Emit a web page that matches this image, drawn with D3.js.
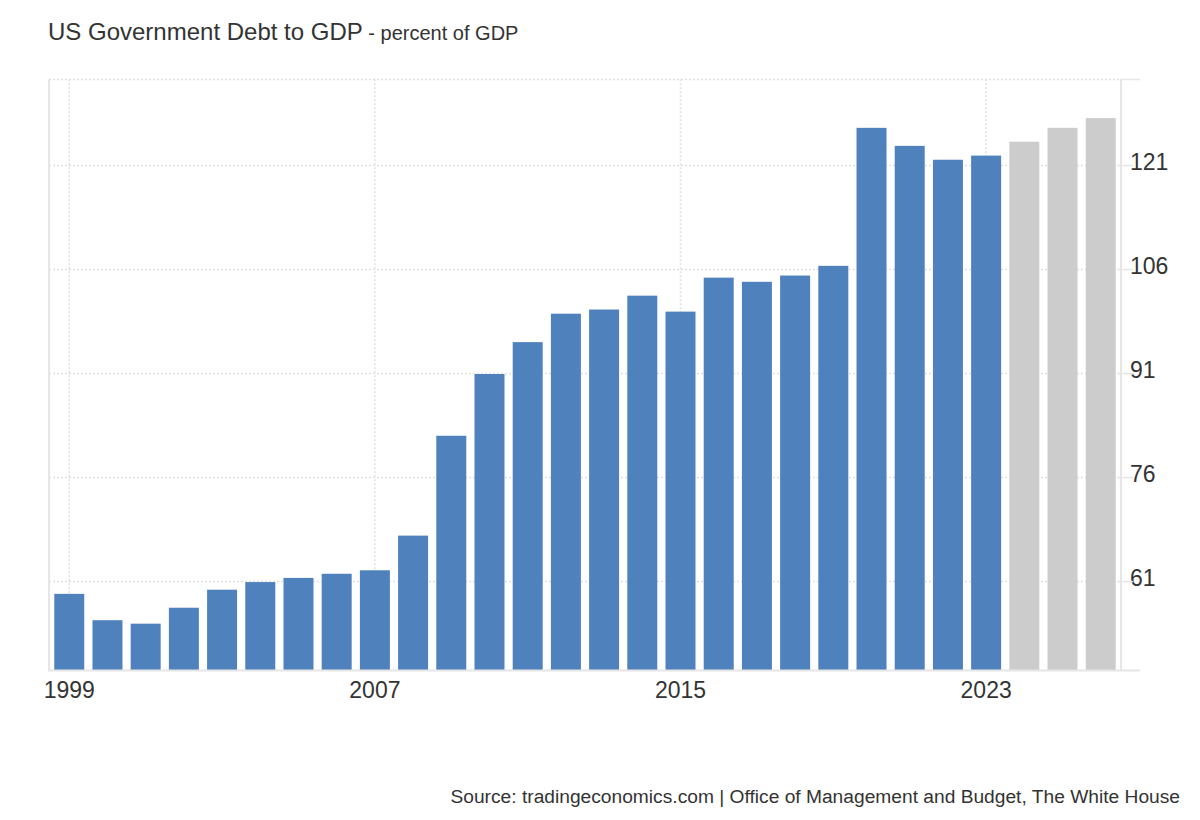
<!DOCTYPE html>
<html>
<head>
<meta charset="utf-8">
<script src="https://cdn.jsdelivr.net/npm/d3@7"></script>
<style>
  html, body { margin: 0; padding: 0; background: #fff; }
  svg { display: block; font-family: "Liberation Sans", Arial, Helvetica, sans-serif; }
</style>
</head>
<body>
<svg id="chart" width="1200" height="820"></svg>
<script>
// ---- data ----
const years = ["1999","2000","2001","2002","2003","2004","2005","2006","2007","2008",
               "2009","2010","2011","2012","2013","2014","2015","2016","2017","2018",
               "2019","2020","2021","2022","2023","2024","2025","2026"];
const debtToGdp = [59.1, 55.3, 54.8, 57.1, 59.7, 60.8, 61.4, 62.0, 62.5, 67.5,
                   81.9, 90.8, 95.4, 99.5, 100.1, 102.1, 99.8, 104.7, 104.1, 105.0,
                   106.4, 126.3, 123.7, 121.7, 122.3, 124.3, 126.3, 127.7];
const forecastYears = ["2024","2025","2026"];
const yTicks = [61, 76, 91, 106, 121];
const xTickYears = ["1999","2007","2015","2023"];
const titleText = "US Government Debt to GDP";
const subtitleText = " - percent of GDP";
const sourceText = "Source: tradingeconomics.com | Office of Management and Budget, The White House";

(function () {
// ---- layout ----
const pL = 49, pR = 1121, pT = 79.3, pB = 670;
const svg = d3.select("#chart");

const x = d3.scaleBand().domain(years).range([pL, pR])
  .paddingInner(0.215).paddingOuter(0.138);
const y = d3.scaleLinear().domain([48.12, 133.3]).range([pB, pT]);

const gridColor = "#e0e0e0";
const axisColor = "#e6e6e6";
const textColor = "#333333";

// horizontal grid (dotted)
const gridG = svg.append("g");
gridG.selectAll("line.h").data(yTicks.concat([y.invert(pT)])).join("line")
  .attr("class", "h")
  .attr("x1", pL).attr("x2", pR)
  .attr("y1", d => Math.round(y(d)) + 0.5).attr("y2", d => Math.round(y(d)) + 0.5)
  .attr("stroke", gridColor).attr("stroke-width", 1.6).attr("stroke-dasharray", "2,2");
// vertical grid (dotted)
gridG.selectAll("line.v").data(xTickYears).join("line")
  .attr("class", "v")
  .attr("x1", d => x(d) + x.bandwidth() / 2).attr("x2", d => x(d) + x.bandwidth() / 2)
  .attr("y1", pT).attr("y2", pB)
  .attr("stroke", gridColor).attr("stroke-width", 1.6).attr("stroke-dasharray", "2,2");

// bars
svg.append("g").selectAll("rect").data(years).join("rect")
  .attr("x", d => x(d))
  .attr("width", x.bandwidth())
  .attr("y", (d, i) => y(debtToGdp[i]))
  .attr("height", (d, i) => pB - y(debtToGdp[i]))
  .attr("fill", d => forecastYears.includes(d) ? "#cccccc" : "#4f81bd");

// left axis line
svg.append("line").attr("x1", pL).attr("x2", pL).attr("y1", pT).attr("y2", pB)
  .attr("stroke", axisColor).attr("stroke-width", 2);

// right axis (d3 axis)
const yAxis = d3.axisRight(y).tickValues(yTicks).tickSize(0).tickPadding(9);
const yAxisG = svg.append("g").attr("transform", `translate(${pR},0)`).call(yAxis);
yAxisG.select(".domain").remove();
yAxisG.selectAll(".tick text")
  .attr("font-size", 23).attr("fill", textColor)
  .attr("font-family", "\"Liberation Sans\", Arial, sans-serif")
  .attr("dy", "0.22em");
yAxisG.selectAll(".tick").append("line")
  .attr("x1", -3).attr("x2", 12).attr("y1", 0.5).attr("y2", 0.5)
  .attr("stroke", axisColor).attr("stroke-width", 1.5);
svg.append("line").attr("x1", pR).attr("x2", pR).attr("y1", pT).attr("y2", pB)
  .attr("stroke", axisColor).attr("stroke-width", 2);
svg.append("line").attr("x1", pR).attr("x2", pR + 19)
  .attr("y1", Math.round(pT) + 0.5).attr("y2", Math.round(pT) + 0.5)
  .attr("stroke", axisColor).attr("stroke-width", 1.5);

// bottom axis (d3 axis)
const xAxis = d3.axisBottom(x).tickValues(xTickYears).tickSize(0).tickPadding(12);
const xAxisG = svg.append("g").attr("transform", `translate(0,${pB})`).call(xAxis);
xAxisG.select(".domain").remove();
xAxisG.selectAll(".tick text")
  .attr("font-size", 23).attr("fill", textColor)
  .attr("font-family", "\"Liberation Sans\", Arial, sans-serif");
svg.append("line").attr("x1", pL - 1).attr("x2", pR + 19)
  .attr("y1", pB + 0.5).attr("y2", pB + 0.5)
  .attr("stroke", axisColor).attr("stroke-width", 2);

// title
const t = svg.append("text").attr("x", 48).attr("y", 40).attr("fill", textColor);
t.append("tspan").attr("font-size", 24).text(titleText);
t.append("tspan").attr("font-size", 20).text(subtitleText);

// source
svg.append("text").attr("x", 1180).attr("y", 803).attr("text-anchor", "end")
  .attr("font-size", 19.2).attr("fill", textColor).text(sourceText);
})();
</script>
</body>
</html>
